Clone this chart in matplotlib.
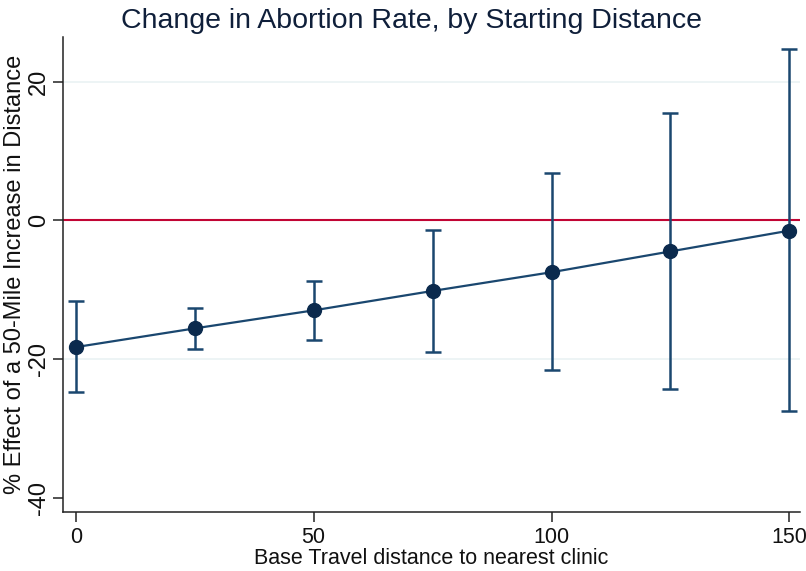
import matplotlib
matplotlib.use("Agg")
import matplotlib.pyplot as plt

# estimated effect of a 50-mile increase, by base travel distance
distance = [0, 25, 50, 75, 100, 125, 150]
effect = [-18.3, -15.6, -13.0, -10.2, -7.5, -4.5, -1.5]
ci_low = [-24.8, -18.6, -17.3, -19.0, -21.6, -24.4, -27.5]
ci_high = [-11.7, -12.7, -8.8, -1.4, 6.8, 15.4, 24.7]

plt.rcParams['font.family'] = ['Liberation Sans', 'DejaVu Sans']

navy = '#1a476f'
fig = plt.figure(figsize=(8.06, 5.71), dpi=100)
ax = fig.add_axes([0.078, 0.103, 0.915, 0.832])

for yv in (-20, 20):
    ax.axhline(yv, color='#eaf2f3', lw=1.2, zorder=0)
ax.axhline(0, color='#c10534', lw=1.5, zorder=1)

yerr = [[e - lo for e, lo in zip(effect, ci_low)],
        [hi - e for e, hi in zip(effect, ci_high)]]
ax.errorbar(distance, effect, yerr=yerr, fmt='none', ecolor=navy,
            elinewidth=1.8, capsize=5.5, capthick=1.8, zorder=2)
ax.plot(distance, effect, '-', color=navy, lw=1.6, zorder=3)
ax.plot(distance, effect, 'o', color='#0b2a4d', ms=10, zorder=4)

ax.set_xlim(-2.7, 152.3)
ax.set_ylim(-42.1, 26.4)
ax.set_xticks([0, 50, 100, 150])
ax.set_yticks([-40, -20, 0, 20])
ax.set_yticklabels(['-40', '-20', '0', '20'])
ax.tick_params(axis='both', direction='out', length=7, width=1.1,
               color='#222222', labelcolor='#111111')
ax.tick_params(axis='x', labelsize=15.5)
ax.tick_params(axis='y', labelsize=17, pad=2)
for lab in ax.get_yticklabels():
    lab.set_rotation(90)
    lab.set_va('center')

for side in ('top', 'right'):
    ax.spines[side].set_visible(False)
for side in ('left', 'bottom'):
    ax.spines[side].set_linewidth(1.1)
    ax.spines[side].set_color('#222222')

ax.set_xlabel('Base Travel distance to nearest clinic', fontsize=15.5,
              labelpad=0, color='#111111')
ax.set_ylabel('% Effect of a 50-Mile Increase in Distance', fontsize=17,
              labelpad=2, color='#111111')
fig.text(0.51, 1 - 28 / 571, 'Change in Abortion Rate, by Starting Distance',
         fontsize=20.5, ha='center', va='baseline', color='#0f1f3a')

fig.savefig('out.png', dpi=100)
